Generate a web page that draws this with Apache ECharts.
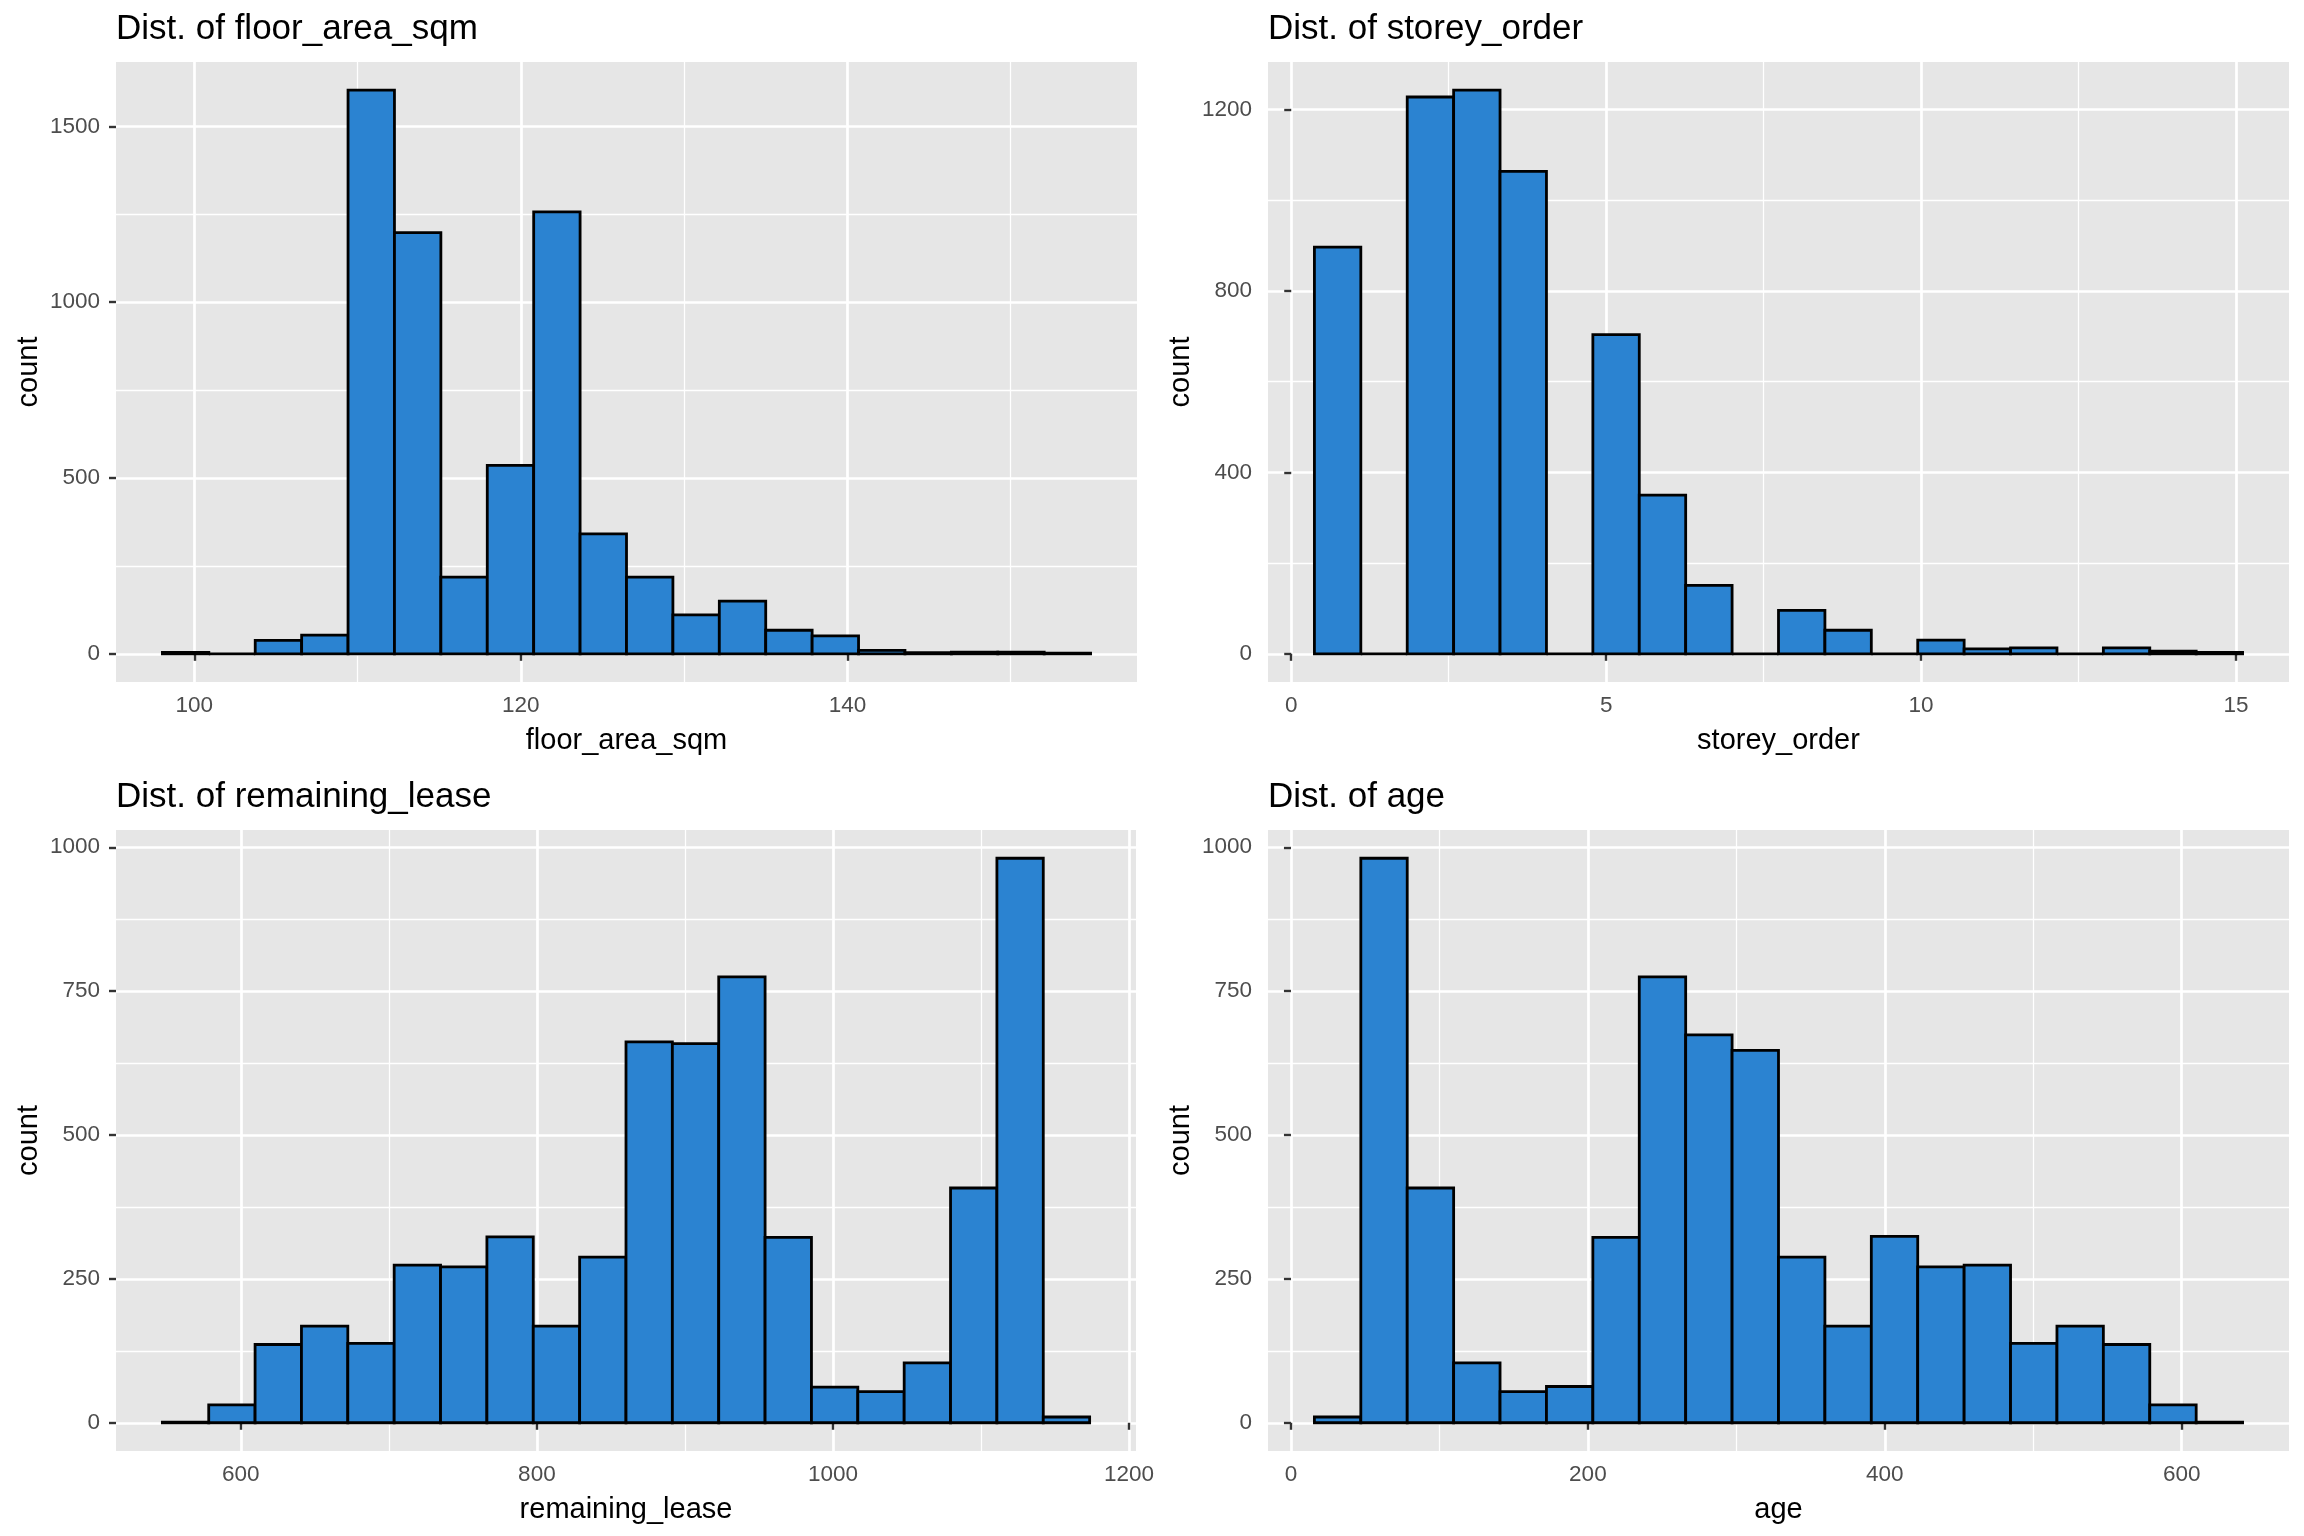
<!DOCTYPE html>
<html><head><meta charset="utf-8">
<script src="https://cdn.jsdelivr.net/npm/echarts@6/dist/echarts.min.js"></script>
<style>html,body{margin:0;padding:0;background:#fff}#c{width:2304px;height:1536px}</style>
</head><body><div id="c"></div>
<script>
// ---------- data ----------
const floorBinStart = 98.05, floorBinWidth = 2.8421;
const floorCounts = [4, 0, 38, 53, 1603, 1198, 218, 536, 1257, 341, 218, 111, 150, 67, 51, 10, 3, 5, 5, 2];
const floorXTicks = [100, 120, 140];
const floorXMinor = [110, 130, 150];
const floorYTicks = [0, 500, 1000, 1500];
const floorYMinor = [250, 750, 1250];

const storeyBinStart = 0.368, storeyBinWidth = 0.7368;
const storeyCounts = [897, 0, 1228, 1243, 1064, 0, 704, 350, 151, 0, 96, 52, 0, 30, 11, 13, 0, 13, 6, 3];
const storeyXTicks = [0, 5, 10, 15];
const storeyXMinor = [2.5, 7.5, 12.5];
const storeyYTicks = [0, 400, 800, 1200];
const storeyYMinor = [200, 600, 1000];

const leaseBinStart = 547.0, leaseBinWidth = 31.32;
const leaseCounts = [1, 31, 136, 168, 138, 274, 271, 323, 168, 288, 662, 659, 775, 322, 62, 54, 104, 408, 981, 10];
const leaseXTicks = [600, 800, 1000, 1200];
const leaseXMinor = [700, 900, 1100];
const leaseYTicks = [0, 250, 500, 750, 1000];
const leaseYMinor = [125, 375, 625, 875];

const ageBinStart = 15.8, ageBinWidth = 31.26;
const ageCounts = [10, 981, 408, 104, 54, 63, 322, 775, 674, 647, 288, 168, 324, 271, 274, 138, 168, 136, 31, 1];
const ageXTicks = [0, 200, 400, 600];
const ageXMinor = [100, 300, 500];
const ageYTicks = [0, 250, 500, 750, 1000];
const ageYMinor = [125, 375, 625, 875];

const titles = ['Dist. of floor_area_sqm', 'Dist. of storey_order', 'Dist. of remaining_lease', 'Dist. of age'];
const xNames = ['floor_area_sqm', 'storey_order', 'remaining_lease', 'age'];
const yName = 'count';

// ---------- layout / style ----------
const FONT = 'Liberation Sans, Arial, Helvetica, sans-serif';
const panels = [
  {left: 116, top: 62, width: 1021, height: 620, start: floorBinStart, w: floorBinWidth, counts: floorCounts,
   xt: floorXTicks, xm: floorXMinor, yt: floorYTicks, ym: floorYMinor, xi: 20, yi: 500},
  {left: 1268, top: 62, width: 1021, height: 620, start: storeyBinStart, w: storeyBinWidth, counts: storeyCounts,
   xt: storeyXTicks, xm: storeyXMinor, yt: storeyYTicks, ym: storeyYMinor, xi: 5, yi: 400},
  {left: 116, top: 830, width: 1020, height: 621, start: leaseBinStart, w: leaseBinWidth, counts: leaseCounts,
   xt: leaseXTicks, xm: leaseXMinor, yt: leaseYTicks, ym: leaseYMinor, xi: 200, yi: 250},
  {left: 1268, top: 830, width: 1021, height: 621, start: ageBinStart, w: ageBinWidth, counts: ageCounts,
   xt: ageXTicks, xm: ageXMinor, yt: ageYTicks, ym: ageYMinor, xi: 200, yi: 250}
];

const plain = v => String(Math.round(v * 1000) / 1000);

const option = {
  animation: false,
  backgroundColor: '#ffffff',
  title: [], grid: [], xAxis: [], yAxis: [], series: []
};

panels.forEach((p, i) => {
  const n = p.counts.length;
  const lo = p.start, hi = p.start + n * p.w;
  const xpad = 0.05 * (hi - lo);
  const xmin = lo - xpad, xmax = hi + xpad;
  const cmax = Math.max(...p.counts);
  const ymin = -0.05 * cmax, ymax = 1.05 * cmax;

  option.title.push({
    text: titles[i], left: p.left, top: p.top - 50, padding: 0,
    textStyle: {fontSize: 35, fontWeight: 'normal', color: '#000', fontFamily: FONT}
  });
  option.grid.push({
    left: p.left, top: p.top, width: p.width, height: p.height,
    show: true, backgroundColor: '#E6E6E6', borderWidth: 0, containLabel: false, outerBoundsMode: 'none'
  });
  // major x
  option.xAxis.push({
    type: 'value', gridIndex: i, position: 'bottom', min: xmin, max: xmax,
    minInterval: p.xi, maxInterval: p.xi,
    axisLine: {show: false},
    axisTick: {show: true, length: 7, customValues: p.xt, lineStyle: {color: '#333333', width: 2.4}},
    axisLabel: {show: true, customValues: p.xt, formatter: plain, margin: 12, color: '#4D4D4D', fontSize: 22.5, fontFamily: FONT},
    splitLine: {show: true, lineStyle: {color: '#FFFFFF', width: 2.7}},
    name: xNames[i], nameLocation: 'middle', nameGap: 44,
    nameTextStyle: {fontSize: 29, color: '#000', fontFamily: FONT}
  });
  // minor x
  option.xAxis.push({
    type: 'value', gridIndex: i, position: 'bottom', min: xmin, max: xmax,
    minInterval: p.xi / 2, maxInterval: p.xi / 2,
    axisLine: {show: false},
    axisTick: {show: false, customValues: p.xm},
    axisLabel: {show: false, customValues: p.xm},
    splitLine: {show: true, lineStyle: {color: '#FFFFFF', width: 1.3}}
  });
  // major y
  option.yAxis.push({
    type: 'value', gridIndex: i, position: 'left', min: ymin, max: ymax,
    minInterval: p.yi, maxInterval: p.yi,
    axisLine: {show: false},
    axisTick: {show: true, length: 7, customValues: p.yt, lineStyle: {color: '#333333', width: 2.4}},
    axisLabel: {show: true, customValues: p.yt, formatter: plain, margin: 16, color: '#4D4D4D', fontSize: 22.5, fontFamily: FONT},
    splitLine: {show: true, lineStyle: {color: '#FFFFFF', width: 2.7}},
    name: yName, nameLocation: 'middle', nameGap: 73,
    nameTextStyle: {fontSize: 29, color: '#000', fontFamily: FONT}
  });
  // minor y
  option.yAxis.push({
    type: 'value', gridIndex: i, position: 'left', min: ymin, max: ymax,
    minInterval: p.yi / 2, maxInterval: p.yi / 2,
    axisLine: {show: false},
    axisTick: {show: false, customValues: p.ym},
    axisLabel: {show: false, customValues: p.ym},
    splitLine: {show: true, lineStyle: {color: '#FFFFFF', width: 1.3}}
  });

  const data = p.counts.map((c, k) => [p.start + k * p.w, p.start + (k + 1) * p.w, c]);
  option.series.push({
    type: 'custom', xAxisIndex: 2 * i, yAxisIndex: 2 * i, silent: true,
    encode: {x: [0, 1], y: 2},
    data: data,
    renderItem: function (params, api) {
      const a = api.coord([api.value(0), api.value(2)]);
      const b = api.coord([api.value(1), 0]);
      return {
        type: 'rect',
        shape: {x: a[0], y: a[1], width: b[0] - a[0], height: b[1] - a[1]},
        style: {fill: '#2B83D1', stroke: '#000000', lineWidth: 2.8}
      };
    }
  });
});

const chart = echarts.init(document.getElementById('c'), null, {renderer: 'canvas', width: 2304, height: 1536});
chart.setOption(option);
</script>
</body></html>
